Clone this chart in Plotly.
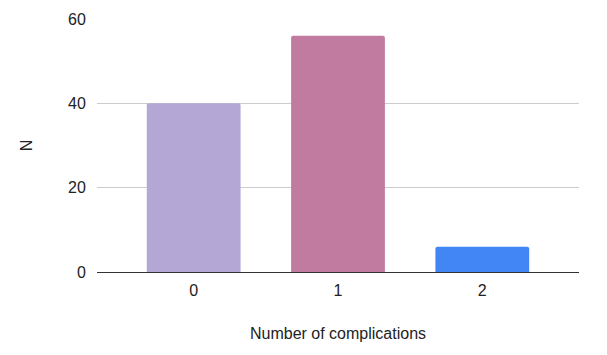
import plotly.graph_objects as go

categories = ["0", "1", "2"]
values = [40, 56, 6]
colors = ["#b4a7d6", "#c27ba0", "#4285f4"]
y_ticks = [0, 20, 40, 60]

fig = go.Figure(go.Bar(x=categories, y=values, marker=dict(color=colors, line=dict(width=0)),
                       hoverinfo="x+y"))

fig.update_layout(
    width=591, height=339,
    margin=dict(l=89, r=20, t=11, b=75),
    paper_bgcolor="white", plot_bgcolor="white",
    font=dict(family="Liberation Sans, Arial, sans-serif", size=16, color="#222222"),
    bargap=0.35,
    barcornerradius=2,
    showlegend=False,
    xaxis=dict(
        type="category", automargin=False,
        range=[-0.67, 2.67],
        title=dict(text="Number of complications", standoff=29, font=dict(size=16)),
        showgrid=False, showline=False, ticks="outside", ticklen=4, tickcolor="rgba(0,0,0,0)",
    ),
    yaxis=dict(
        automargin=False,
        title=dict(text="N", standoff=31, font=dict(size=16)),
        range=[0, 60], tickvals=y_ticks,
        showgrid=True, gridcolor="#cccccc", gridwidth=1,
        zeroline=True, zerolinecolor="#333333", zerolinewidth=1,
        ticks="outside", ticklen=7, tickcolor="rgba(0,0,0,0)",
    ),
)

fig.write_html("out.html")
